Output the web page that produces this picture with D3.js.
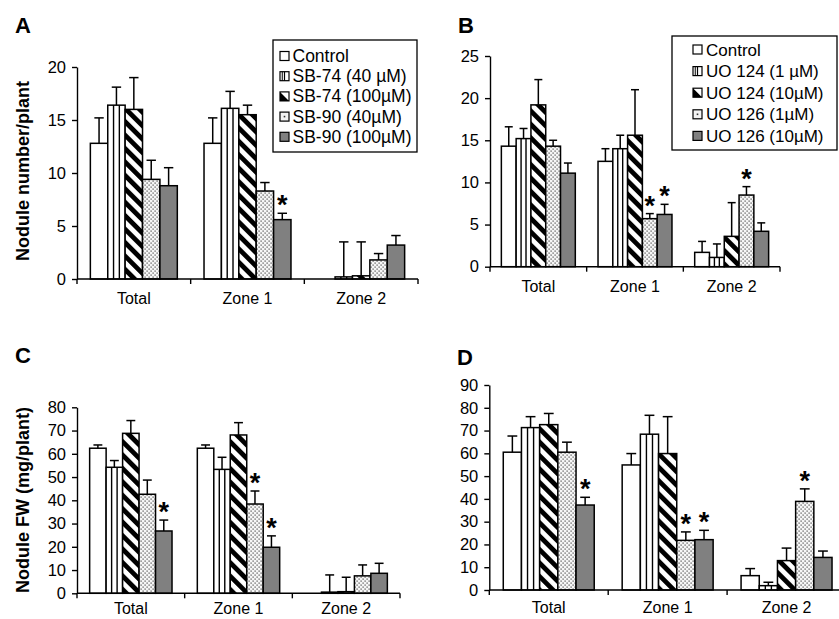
<!DOCTYPE html>
<html><head><meta charset="utf-8">
<script src="https://cdn.jsdelivr.net/npm/d3@7"></script>
<style>
body{margin:0;background:#fff}
text{font-family:"Liberation Sans",Arial,sans-serif;fill:#000}
</style></head><body>
<svg id="c" width="839" height="619"></svg>
<script>
// ---------- DATA ----------
const categories = ["Total", "Zone 1", "Zone 2"];
const seriesSB = ["Control", "SB-74 (40 µM)", "SB-74 (100µM)", "SB-90 (40µM)", "SB-90 (100µM)"];
const seriesUO = ["Control", "UO 124 (1 µM)", "UO 124 (10µM)", "UO 126 (1µM)", "UO 126 (10µM)"];

// Panel A: nodule number/plant (rows = series, cols = categories)
const valuesA = [[12.8, 12.8, 0], [16.4, 16.1, 0.2], [16.0, 15.5, 0.3], [9.4, 8.3, 1.8], [8.8, 5.6, 3.2]];
const errorsA = [[2.4, 2.4, 0], [1.7, 1.6, 3.3], [3.0, 0.9, 3.2], [1.8, 0.8, 0.6], [1.7, 0.6, 0.9]];
const starsA  = [[0,0,0],[0,0,0],[0,0,0],[0,0,0],[0,1,0]];
const ticksA  = [0, 5, 10, 15, 20];

// Panel B
const valuesB = [[14.3, 12.5, 1.7], [15.2, 14.0, 1.1], [19.2, 15.6, 3.6], [14.3, 5.7, 8.5], [11.1, 6.2, 4.2]];
const errorsB = [[2.3, 1.5, 1.3], [1.2, 1.6, 1.6], [3.0, 5.4, 4.0], [0.7, 0.6, 1.0], [1.2, 1.2, 1.0]];
const starsB  = [[0,0,0],[0,0,0],[0,0,0],[0,1,1],[0,1,0]];
const ticksB  = [0, 5, 10, 15, 20, 25];

// Panel C: nodule FW (mg/plant)
const valuesC = [[62.4, 62.4, 0], [54.2, 53.3, 0.5], [68.8, 68.1, 0.7], [42.6, 38.4, 7.5], [26.8, 19.8, 8.6]];
const errorsC = [[1.4, 1.4, 0], [2.9, 5.2, 7.4], [5.5, 5.3, 6.2], [6.1, 5.6, 4.7], [4.7, 4.9, 4.3]];
const starsC  = [[0,0,0],[0,0,0],[0,0,0],[0,1,0],[1,1,0]];
const ticksC  = [0, 10, 20, 30, 40, 50, 60, 70, 80];

// Panel D
const valuesD = [[60.5, 54.9, 6.3], [71.3, 68.4, 1.9], [72.6, 59.9, 12.9], [60.5, 21.8, 38.9], [37.3, 22.1, 14.3]];
const errorsD = [[7.1, 5.0, 3.1], [4.8, 8.3, 1.5], [4.9, 16.2, 5.5], [4.4, 3.7, 5.5], [3.4, 4.1, 2.8]];
const starsD  = [[0,0,0],[0,0,0],[0,0,0],[0,1,1],[1,1,0]];
const ticksD  = [0, 10, 20, 30, 40, 50, 60, 70, 80, 90];

// ---------- LAYOUT ----------
const panels = [
  {letter:"A", series:seriesSB, values:valuesA, errors:errorsA, stars:starsA, ticks:ticksA,
   x0:77, x1:418, yB:279, yT:67, lx:15, ly:33, ylabel:"Nodule number/plant", ylx:29, yly:171, lab:25,
   legend:{x:273, y:40, w:144, h:112, r0:56, step:20.2, sw:280, tx:292.5, fs:17.5}},
  {letter:"B", series:seriesUO, values:valuesB, errors:errorsB, stars:starsB, ticks:ticksB,
   x0:490, x1:780, yB:266.7, yT:56, lx:458, ly:33, ylabel:null, lab:25,
   legend:{x:672, y:36, w:165, h:114, r0:49.5, step:21.6, sw:693, tx:706, fs:17}},
  {letter:"C", series:seriesSB, values:valuesC, errors:errorsC, stars:starsC, ticks:ticksC,
   x0:77, x1:400, yB:593.3, yT:407.3, lx:15, ly:363, ylabel:"Nodule FW (mg/plant)", ylx:29, yly:500, lab:21,
   legend:null},
  {letter:"D", series:seriesUO, values:valuesD, errors:errorsD, stars:starsD, ticks:ticksD,
   x0:489.3, x1:846, yB:590, yT:385, lx:457, ly:365, ylabel:null, lab:23, legend:null}
];

const svg = d3.select("#c");
const defs = svg.append("defs");
// diagonal "\\" stripes
const pd = defs.append("pattern").attr("id","diag").attr("patternUnits","userSpaceOnUse")
  .attr("width",9.5).attr("height",9.5).attr("patternTransform","rotate(-45)");
pd.append("rect").attr("width",9.5).attr("height",9.5).attr("fill","#fff");
pd.append("rect").attr("x",0).attr("width",4.8).attr("height",9.5).attr("fill","#000");
// dots
const pdot = defs.append("pattern").attr("id","dots").attr("patternUnits","userSpaceOnUse")
  .attr("width",4).attr("height",4);
pdot.append("rect").attr("width",4).attr("height",4).attr("fill","#f6f6f6");
pdot.append("rect").attr("x",0.5).attr("y",0.5).attr("width",1.2).attr("height",1.2).attr("fill","#444");
pdot.append("rect").attr("x",2.5).attr("y",2.5).attr("width",1.2).attr("height",1.2).attr("fill","#444");

const fills = ["#fff", "#fff", "url(#diag)", "url(#dots)", "#808080"];
const INNER = 0.765;

panels.forEach(p => {
  const g = svg.append("g");
  const x = d3.scaleBand().domain(categories).range([p.x0, p.x1]).padding(0);
  const bw = x.bandwidth();
  const xs = d3.scaleBand().domain(p.series).range([bw*(1-INNER)/2, bw*(1+INNER)/2]).padding(0);
  const y = d3.scaleLinear().domain([0, d3.max(p.ticks)]).range([p.yB, p.yT]);
  const w = xs.bandwidth();

  // bars
  p.series.forEach((s, si) => {
    categories.forEach((c, ci) => {
      const v = p.values[si][ci];
      if (v <= 0) return;
      const bx = x(c) + xs(s);
      g.append("rect").attr("x", bx).attr("y", y(v)).attr("width", w).attr("height", y(0) - y(v))
        .attr("fill", fills[si]).attr("stroke", "#000").attr("stroke-width", 1.5);
      if (si === 1) {
        [1/3, 2/3].forEach(f => g.append("line").attr("x1", bx + w*f).attr("x2", bx + w*f)
          .attr("y1", y(v)).attr("y2", y(0)).attr("stroke", "#000").attr("stroke-width", 1.4));
      }
    });
  });
  // error bars & stars
  p.series.forEach((s, si) => {
    categories.forEach((c, ci) => {
      const v = p.values[si][ci], e = p.errors[si][ci];
      const cx = x(c) + xs(s) + w/2;
      if (e > 0) {
        g.append("line").attr("x1", cx).attr("x2", cx).attr("y1", y(v)).attr("y2", y(v+e))
          .attr("stroke", "#000").attr("stroke-width", 1.5);
        g.append("line").attr("x1", cx - w*0.27).attr("x2", cx + w*0.27).attr("y1", y(v+e)).attr("y2", y(v+e))
          .attr("stroke", "#000").attr("stroke-width", 1.5);
      }
      if (p.stars[si][ci]) {
        g.append("text").attr("x", cx).attr("y", y(v+e) + 1).attr("text-anchor", "middle")
          .attr("font-size", 27).attr("font-weight", "bold").text("*");
      }
    });
  });

  // y axis
  const ya = g.append("g").attr("transform", `translate(${p.x0},0)`)
    .call(d3.axisLeft(y).tickValues(p.ticks).tickSize(5).tickSizeOuter(0).tickPadding(6));
  ya.selectAll("path,line").attr("stroke", "#000").attr("stroke-width", 1.4);
  ya.selectAll("text").attr("font-size", 16.5).attr("font-family", '"Liberation Sans",Arial,sans-serif');

  // x axis
  g.append("line").attr("x1", p.x0).attr("x2", p.x1).attr("y1", p.yB).attr("y2", p.yB)
    .attr("stroke", "#000").attr("stroke-width", 1.4);
  d3.range(categories.length + 1).forEach(i => {
    const tx = p.x0 + i*bw;
    g.append("line").attr("x1", tx).attr("x2", tx).attr("y1", p.yB).attr("y2", p.yB + 5)
      .attr("stroke", "#000").attr("stroke-width", 1.4);
  });
  categories.forEach(c => {
    g.append("text").attr("x", x(c) + bw/2).attr("y", p.yB + p.lab).attr("text-anchor", "middle")
      .attr("font-size", 16).text(c);
  });

  // panel letter
  g.append("text").attr("x", p.lx).attr("y", p.ly).attr("font-size", 22).attr("font-weight", "bold").text(p.letter);

  // y label
  if (p.ylabel) {
    g.append("text").attr("transform", `translate(${p.ylx},${p.yly}) rotate(-90)`)
      .attr("text-anchor", "middle").attr("font-size", 18).attr("font-weight", "bold").text(p.ylabel);
  }

  // legend
  if (p.legend) {
    const L = p.legend;
    g.append("rect").attr("x", L.x).attr("y", L.y).attr("width", L.w).attr("height", L.h)
      .attr("fill", "#fff").attr("stroke", "#000").attr("stroke-width", 1.3);
    p.series.forEach((s, si) => {
      const cy = L.r0 + si*L.step;
      const sx = L.sw, sy = cy - 4.5, sz = 9;
      g.append("rect").attr("x", sx).attr("y", sy).attr("width", sz).attr("height", sz)
        .attr("fill", si === 4 ? "#808080" : (si === 3 ? "#f4f4f4" : "#fff")).attr("stroke", "#000").attr("stroke-width", 1.2);
      if (si === 1) {
        g.append("line").attr("x1", sx + sz/2).attr("x2", sx + sz/2).attr("y1", sy).attr("y2", sy + sz)
          .attr("stroke", "#000").attr("stroke-width", 1.2);
        g.append("line").attr("x1", sx + sz/4).attr("x2", sx + sz/4).attr("y1", sy).attr("y2", sy + sz)
          .attr("stroke", "#000").attr("stroke-width", 1);
      }
      if (si === 2) {
        g.append("path").attr("d", `M${sx},${sy} L${sx+sz},${sy+sz} L${sx},${sy+sz} Z`).attr("fill", "#000");
      }
      if (si === 3) {
        g.append("rect").attr("x", sx + sz/2 - 0.8).attr("y", sy + sz/2 - 0.8).attr("width", 1.6).attr("height", 1.6).attr("fill", "#333");
      }
      g.append("text").attr("x", L.tx).attr("y", cy + 6).attr("font-size", L.fs).text(s);
    });
  }
});
</script>
</body></html>
